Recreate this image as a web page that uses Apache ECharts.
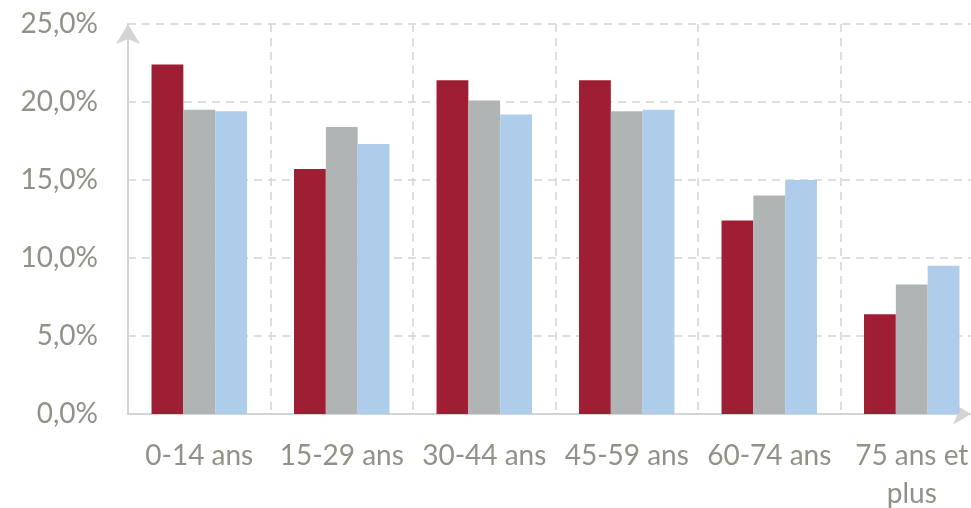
<!DOCTYPE html>
<html>
<head>
<meta charset="utf-8">
<script src="https://cdn.jsdelivr.net/npm/echarts@6/dist/echarts.min.js"></script>
<style>
html,body{margin:0;padding:0;background:#fff;overflow:hidden;}
#chart{width:1000px;height:508px;}
</style>
</head>
<body>
<div id="chart"></div>
<script>
const categories = ['0-14 ans', '15-29 ans', '30-44 ans', '45-59 ans', '60-74 ans', '75 ans et\nplus'];
const serie1 = [22.4, 15.7, 21.4, 21.4, 12.4, 6.4];
const serie2 = [19.5, 18.4, 20.1, 19.4, 14.0, 8.3];
const serie3 = [19.4, 17.3, 19.2, 19.5, 15.0, 9.5];
const yTicks = [0, 5, 10, 15, 20, 25];

const textColor = '#919187';
const lineColor = '#d4d4d4';
const fontFamily = 'Lato, "Open Sans", sans-serif';

const chart = echarts.init(document.getElementById('chart'));
chart.setOption({
  animation: false,
  backgroundColor: '#ffffff',
  grid: [
    { left: 128, top: 24, width: 855, height: 390, containLabel: false, outerBoundsMode: 'none' },
    { left: 128, top: 24, width: 843, height: 390, containLabel: false, outerBoundsMode: 'none' }
  ],
  xAxis: [
    {
      type: 'category',
      gridIndex: 0,
      data: categories,
      axisLine: { show: false },
      axisTick: { show: false },
      axisLabel: {
        color: textColor, fontSize: 28, fontFamily: fontFamily,
        margin: 23, lineHeight: 38, interval: 0
      },
      splitLine: { show: true, interval: 0, lineStyle: { color: lineColor, type: [8, 6], width: 1.5 } }
    },
    {
      type: 'value',
      gridIndex: 1,
      min: 0, max: 1,
      axisLine: { show: true, symbol: ['none', 'arrow'], symbolSize: [16, 18],
                  lineStyle: { color: lineColor, width: 2 } },
      axisTick: { show: false },
      axisLabel: { show: false },
      splitLine: { show: false }
    }
  ],
  yAxis: [
    {
      type: 'value',
      gridIndex: 0,
      min: yTicks[0], max: yTicks[yTicks.length - 1], interval: 5,
      axisLine: { show: true, symbol: ['none', 'arrow'], symbolSize: [18, 20],
                  lineStyle: { color: lineColor, width: 2 } },
      axisTick: { show: false },
      axisLabel: {
        color: textColor, fontSize: 28, fontFamily: fontFamily, margin: 30,
        formatter: v => v.toFixed(1).replace('.', ',') + '%'
      },
      splitLine: { show: true, lineStyle: { color: lineColor, type: [8, 6], width: 1.5 } }
    },
    { type: 'value', gridIndex: 1, show: false, min: 0, max: 1 }
  ],
  series: [
    { name: 'Série 1', type: 'bar', xAxisIndex: 0, yAxisIndex: 0, data: serie1,
      barGap: '0%', barCategoryGap: '33%', itemStyle: { color: '#9e1f33' } },
    { name: 'Série 2', type: 'bar', xAxisIndex: 0, yAxisIndex: 0, data: serie2,
      barGap: '0%', barCategoryGap: '33%', itemStyle: { color: '#b1b4b4' } },
    { name: 'Série 3', type: 'bar', xAxisIndex: 0, yAxisIndex: 0, data: serie3,
      barGap: '0%', barCategoryGap: '33%', itemStyle: { color: '#aecdea' } }
  ]
});
</script>
</body>
</html>
